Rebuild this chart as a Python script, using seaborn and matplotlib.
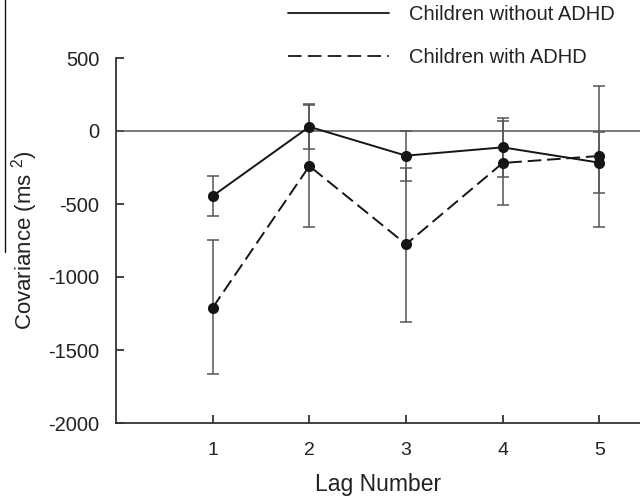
import numpy as np
import pandas as pd
import matplotlib
matplotlib.use("Agg")
import matplotlib.pyplot as plt
from matplotlib.lines import Line2D
import seaborn as sns

# ---- data ----
lags = [1, 2, 3, 4, 5]
groups = ["Children without ADHD", "Children with ADHD"]
without_mean = [-445, 29, -169, -112, -217]
without_upper = [-306, 185, 1, 91, -5]
without_lower = [-582, -126, -340, -313, -423]
with_mean = [-1210, -240, -776, -219, -171]
with_upper = [-747, 180, -251, 71, 308]
with_lower = [-1662, -660, -1305, -509, -655]
y_ticks = [500, 0, -500, -1000, -1500, -2000]
x_ticks = [1, 2, 3, 4, 5]

sns.set_theme(style="ticks")
plt.rcParams["font.family"] = ["Liberation Sans", "DejaVu Sans"]
plt.rcParams["mathtext.fontset"] = "custom"
plt.rcParams["mathtext.rm"] = "Liberation Sans"
plt.rcParams["mathtext.it"] = "Liberation Sans"

df = pd.DataFrame({
    "Lag": lags * 2,
    "Cov": without_mean + with_mean,
    "Group": [groups[0]] * 5 + [groups[1]] * 5,
})

fig = plt.figure(figsize=(6.4, 4.97), dpi=100)
ax = fig.add_axes([116 / 640, 1 - 423 / 497, 1 - 116 / 640, (423 - 58) / 497])

line_col = "#151515"
err_col = "#555555"

# zero reference line
ax.axhline(0, color="#555555", lw=1.1, zorder=1)

# error bars
for mean, lo, hi in [(without_mean, without_lower, without_upper),
                     (with_mean, with_lower, with_upper)]:
    mean = np.array(mean)
    yerr = np.vstack([mean - np.array(lo), np.array(hi) - mean])
    ax.errorbar(lags, mean, yerr=yerr, fmt="none", ecolor=err_col,
                elinewidth=1.1, capsize=4.5, capthick=1.1, zorder=2)

sns.lineplot(data=df, x="Lag", y="Cov", style="Group",
             dashes={groups[0]: "", groups[1]: (7, 3)},
             markers={groups[0]: "o", groups[1]: "o"},
             color=line_col, lw=1.4, markersize=8, markeredgewidth=0,
             legend=False, ax=ax, zorder=3)

ax.set_xlim(0, 5.42)
ax.set_ylim(-2000, 500)
ax.set_xticks(x_ticks)
ax.set_yticks(y_ticks)
ax.set_xticklabels([str(t) for t in x_ticks])
ax.set_yticklabels([str(t) for t in y_ticks])

for s in ["top", "right"]:
    ax.spines[s].set_visible(False)
for s in ["left", "bottom"]:
    ax.spines[s].set_color("#333333")
    ax.spines[s].set_linewidth(1.3)

ax.tick_params(axis="x", direction="in", length=6, width=1.3, color="#333333",
               pad=14, labelsize=14, labelcolor="#222222")
ax.tick_params(axis="y", direction="in", length=6, width=1.3, color="#333333",
               pad=12, labelsize=14.5, labelcolor="#222222")

ax.set_xlabel("Lag Number", fontsize=16.5, color="#222222", labelpad=10)
ax.set_ylabel("Covariance (ms $^{2}$)", fontsize=16, color="#222222")
ax.yaxis.set_label_coords(-0.145, 0.5)

handles = [Line2D([], [], color=line_col, lw=1.3, ls="-"),
           Line2D([], [], color=line_col, lw=1.3, dashes=(7.5, 3.5))]
fig.legend(handles, groups, loc="upper left", bbox_to_anchor=(288 / 640, 0.99),
           frameon=False, fontsize=14.5, handlelength=5.0, handletextpad=1.0,
           labelspacing=1.2, borderpad=0, borderaxespad=0, labelcolor="#222222")

# cropping artifact at the left edge of the reference
fig.add_artist(Line2D([5 / 640, 5 / 640], [1, 1 - 252 / 497],
                      transform=fig.transFigure, color="#111111", lw=1.0))

fig.savefig("out.png", dpi=100)
